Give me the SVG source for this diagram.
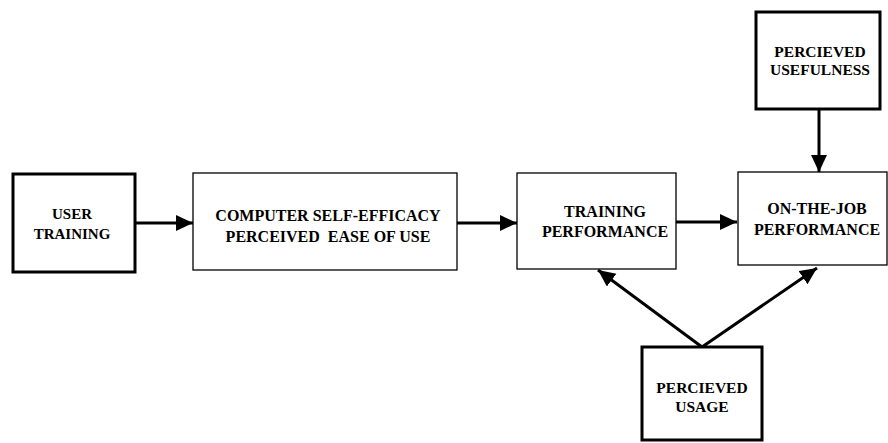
<svg xmlns="http://www.w3.org/2000/svg" width="888" height="443" viewBox="0 0 888 443">
<style>
.thick{fill:#fff;stroke:#000;stroke-width:3}
.thin{fill:#fff;stroke:#000;stroke-width:1.3}
text{font-family:"Liberation Serif","Times New Roman",serif;font-weight:bold;font-size:16px;fill:#000;text-anchor:middle}
.conn{stroke:#000;stroke-width:3;fill:none;marker-end:url(#ah)}
</style>
<defs>
<marker id="ah" markerUnits="userSpaceOnUse" markerWidth="20" markerHeight="18" refX="17" refY="8" orient="auto">
<path d="M0,0 L17,8 L0,16 Z" fill="#000"/>
</marker>
</defs>
<rect width="888" height="443" fill="#fff"/>
<g id="connectors">
<line class="conn" x1="136" y1="223" x2="193" y2="223"/>
<line class="conn" x1="457" y1="223" x2="517" y2="223"/>
<line class="conn" x1="676" y1="222" x2="737" y2="222"/>
<line class="conn" x1="819" y1="109" x2="819" y2="172"/>
<line class="conn" x1="702" y1="347" x2="598" y2="270"/>
<line class="conn" x1="702" y1="347" x2="817" y2="268"/>
</g>
<g id="user-training">
<rect class="thick" x="13" y="174" width="122" height="98"/>
<text x="72" y="219" style="font-size:15px">USER</text>
<text x="72" y="239" style="font-size:15px">TRAINING</text>
</g>
<g id="computer-self-efficacy">
<rect class="thin" x="193" y="173" width="264" height="97"/>
<text x="328" y="221">COMPUTER SELF-EFFICACY</text>
<text x="328" y="242" xml:space="preserve">PERCEIVED  EASE OF USE</text>
</g>
<g id="training-performance">
<rect class="thin" x="517" y="173" width="159" height="96"/>
<text x="605" y="217">TRAINING</text>
<text x="605" y="237">PERFORMANCE</text>
</g>
<g id="on-the-job-performance">
<rect class="thin" x="738" y="172" width="149" height="93"/>
<text x="817" y="214">ON-THE-JOB</text>
<text x="817" y="235">PERFORMANCE</text>
</g>
<g id="perceived-usefulness">
<rect class="thick" x="756" y="12" width="124" height="97"/>
<text x="820" y="57" style="font-size:15.5px">PERCIEVED</text>
<text x="820" y="75" style="font-size:15.5px">USEFULNESS</text>
</g>
<g id="perceived-usage">
<rect class="thick" x="642" y="347" width="120" height="93"/>
<text x="702" y="393" style="font-size:15.5px">PERCIEVED</text>
<text x="702" y="412" style="font-size:15.5px">USAGE</text>
</g>
</svg>
